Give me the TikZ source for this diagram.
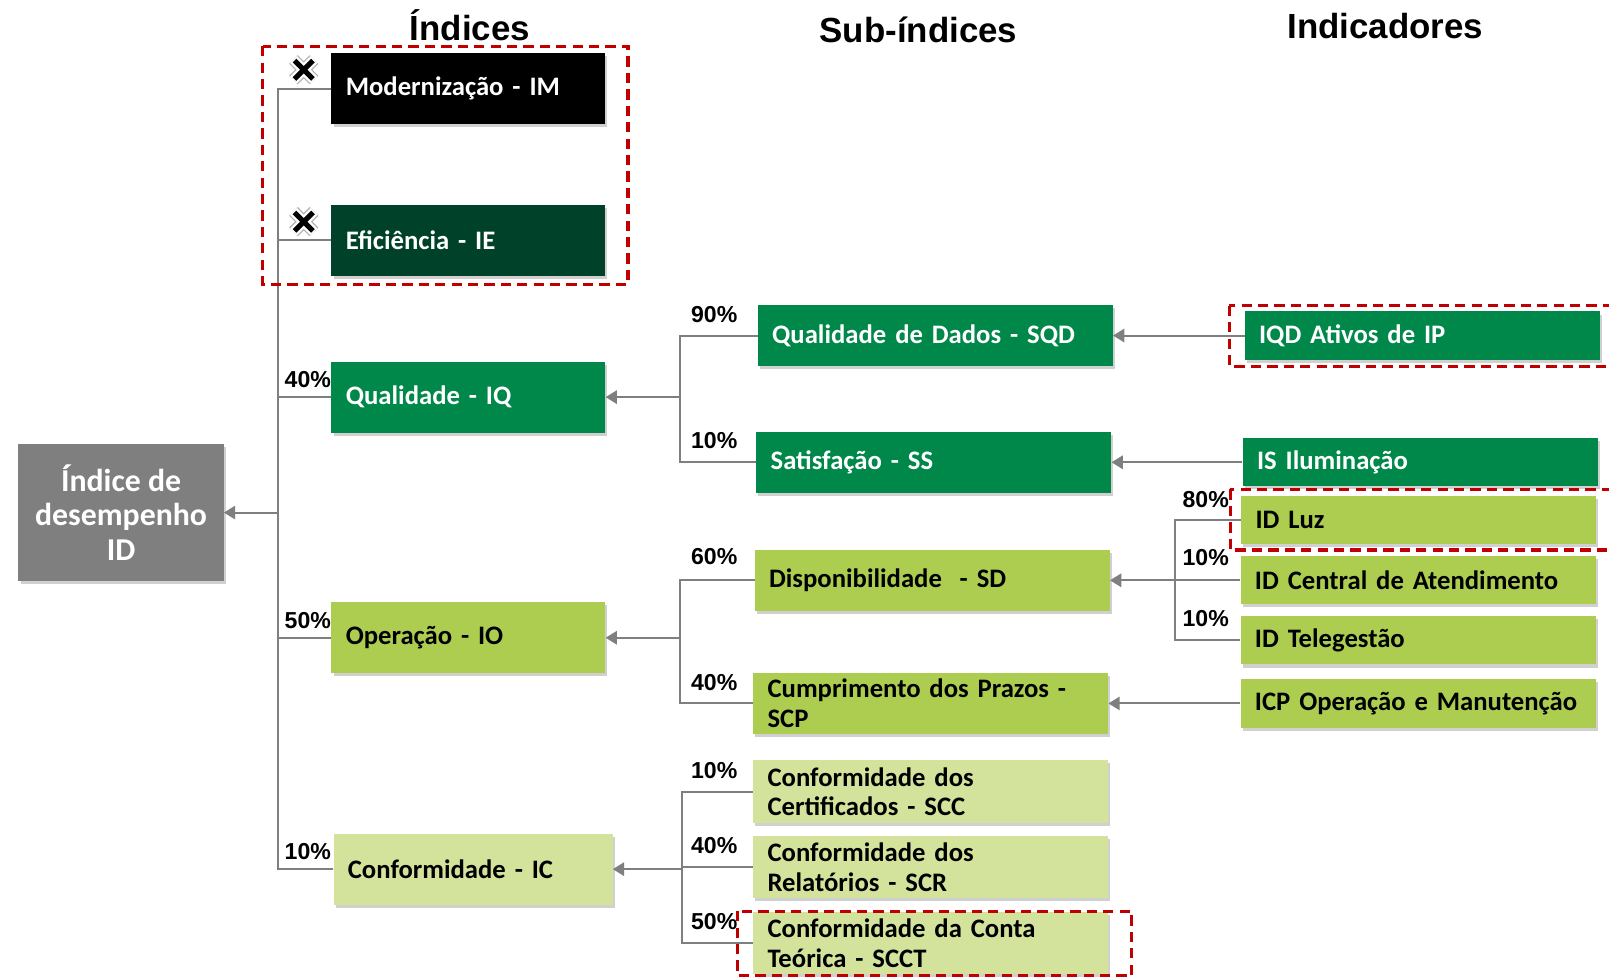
\documentclass[tikz,border=0pt]{standalone}
\usepackage{fontspec}
\setmainfont{Carlito}
\newfontfamily\hdfamily{Liberation Sans}
\usetikzlibrary{arrows.meta,shadows}
\definecolor{cG}{HTML}{00884A}
\definecolor{cL}{HTML}{ADCD51}
\definecolor{cP}{HTML}{D3E39C}
\definecolor{cIE}{HTML}{004229}
\definecolor{cRoot}{HTML}{7F7F7F}
\definecolor{cLine}{HTML}{7F7F7F}
\definecolor{cRed}{HTML}{C00000}
\newcommand{\bxfont}{\fontsize{26}{29}\selectfont\bfseries}
\newcommand{\pctfont}{\hdfamily\fontsize{22.5}{24}\selectfont\bfseries}
\newcommand{\hdrfont}{\hdfamily\fontsize{34}{38}\selectfont\bfseries}
\newcommand{\rootfont}{\fontsize{31}{34}\selectfont\bfseries}
\tikzset{
  bx/.style={rectangle, inner xsep=14pt, inner ysep=0pt, align=left, font=\bxfont,
    drop shadow={shadow xshift=2pt, shadow yshift=-3pt, opacity=0.3, fill=black!60}},
  idx/.style={bx, minimum width=267pt, minimum height=69pt, text width=239pt},
  sub/.style={bx, minimum width=346pt, minimum height=59pt, text width=318pt},
  ind/.style={bx, minimum width=346pt, minimum height=47pt, text width=318pt},
  dk/.style={fill=cG, text=white},
  lt/.style={fill=cL, text=black},
  pl/.style={fill=cP, text=black},
  conn/.style={draw=cLine, line width=2pt},
  arr/.style={conn, -{Triangle[length=11pt, width=13pt]}},
  pct/.style={font=\pctfont, inner sep=0pt},
  hdr/.style={font=\hdrfont, inner sep=0pt, anchor=base},
  redbox/.style={draw=cRed, line width=3pt, dash pattern=on 10pt off 6pt},
  xmk/.pic={
    \draw[black!30, line width=12pt] (-10,-10)--(10,10) (-10,10)--(10,-10);
    \draw[white, line width=9.5pt] (-10,-10)--(10,10) (-10,10)--(10,-10);
    \draw[black, line width=5pt] (-9,-9)--(9,9) (-9,9)--(9,-9);
  }
}
\begin{document}
\begin{tikzpicture}[x=1pt,y=-1pt]
\useasboundingbox (0,0) rectangle (1568,953);
\fill[white] (0,0) rectangle (1568,953);

% headers
\node[hdr] (h1) at (458,39) {Índices};
\node[hdr] (h2) at (895,41) {Sub-índices};
\node[hdr] (h3) at (1350,38) {Indicadores};

% root
\node[rectangle, fill=cRoot, text=white, font=\rootfont, align=center,
  minimum width=200pt, minimum height=133pt, inner sep=0pt,
  drop shadow={shadow xshift=2pt, shadow yshift=-3pt, opacity=0.3, fill=black!60}]
  (root) at (118,499.5) {Índice de\\desempenho\\ID};

% indices
\node[idx, fill=black, text=white] (im) at (456.5,86.5) {Modernização - IM};
\node[idx, fill=cIE, text=white] (ie) at (456.5,234) {Eficiência - IE};
\node[idx, dk] (iq) at (456.5,387) {Qualidade - IQ};
\node[idx, lt] (io) at (456.5,621.5) {Operação - IO};
\node[idx, pl, minimum width=272pt, text width=244pt] (ic) at (461,847) {Conformidade - IC};

% sub-indices
\node[sub, dk] (sqd) at (911.5,327) {Qualidade de Dados - SQD};
\node[sub, dk] (ss) at (910,450.5) {Satisfação - SS};
\node[sub, lt] (sd) at (908.5,565.5) {Disponibilidade\ \ - SD};
\node[sub, lt] (scp) at (907,685.5) {Cumprimento dos Prazos -\\SCP};
\node[sub, pl, minimum height=61pt] (scc) at (907,771.5) {Conformidade dos\\Certificados - SCC};
\node[sub, pl, minimum height=60pt] (scr) at (907,845) {Conformidade dos\\Relatórios - SCR};
\node[sub, pl, minimum height=60pt] (scct) at (907,919) {Conformidade da Conta\\Teórica - SCCT};

% indicators
\node[ind, dk] (iqd) at (1386,327) {IQD Ativos de IP};
\node[ind, dk] (is) at (1384,450.5) {IS Iluminação};
\node[ind, lt] (luz) at (1382.5,506.5) {ID Luz};
\node[ind, lt] (idc) at (1382,565.5) {ID Central de Atendimento};
\node[ind, lt] (tel) at (1382,624) {ID Telegestão};
\node[ind, lt] (icp) at (1382,685.5) {ICP Operação e Manutenção};

% connectors: indices -> root
\coordinate (tr) at (271,499.5);
\draw[arr] (tr) -- (root.east);
\foreach \n in {im,ie,iq,io,ic} \draw[conn] (\n.west) -| (tr);

% sub -> indices
\coordinate (jq) at (663,387);
\draw[arr] (jq) -- (iq.east);
\draw[conn] (sqd.west) -| (jq);
\draw[conn] (ss.west) -| (jq);

\coordinate (jo) at (663,621.5);
\draw[arr] (jo) -- (io.east);
\draw[conn] (sd.west) -| (jo);
\draw[conn] (scp.west) -| (jo);

\coordinate (jc) at (665,847);
\draw[arr] (jc) -- (ic.east);
\draw[conn] (scc.west) -| (jc);
\draw[conn] (scr.west) -| (jc);
\draw[conn] (scct.west) -| (jc);

% indicators -> sub
\draw[arr] (iqd.west) -- (sqd.east);
\draw[arr] (is.west) -- (ss.east);
\coordinate (jd) at (1145,565.5);
\draw[arr] (idc.west) -- (sd.east);
\draw[conn] (luz.west) -| (jd);
\draw[conn] (tel.west) -| (jd);
\draw[arr] (icp.west) -- (scp.east);

% percentages
\node[pct] (p1) at (300,370) {40\%};
\node[pct] (p2) at (300,605) {50\%};
\node[pct] (p3) at (300,830) {10\%};
\node[pct] (p4) at (696,307) {90\%};
\node[pct] (p5) at (696,429) {10\%};
\node[pct] (p6) at (696,542) {60\%};
\node[pct] (p7) at (696,665) {40\%};
\node[pct] (p8) at (696,751) {10\%};
\node[pct] (p9) at (696,824) {40\%};
\node[pct] (p10) at (696,898) {50\%};
\node[pct] (p11) at (1175,487) {80\%};
\node[pct] (p12) at (1175,543) {10\%};
\node[pct] (p13) at (1175,603) {10\%};

% x marks
\pic at (296,68) {xmk};
\pic at (296,216) {xmk};

% red dashed frames
\draw[redbox] (256,45) rectangle (612,277);
\draw[redbox] (1198,298) rectangle (1590,357);
\draw[redbox] (1199,477) rectangle (1590,536);
\draw[redbox] (719,888) rectangle (1103,951);
\end{tikzpicture}
\end{document}
